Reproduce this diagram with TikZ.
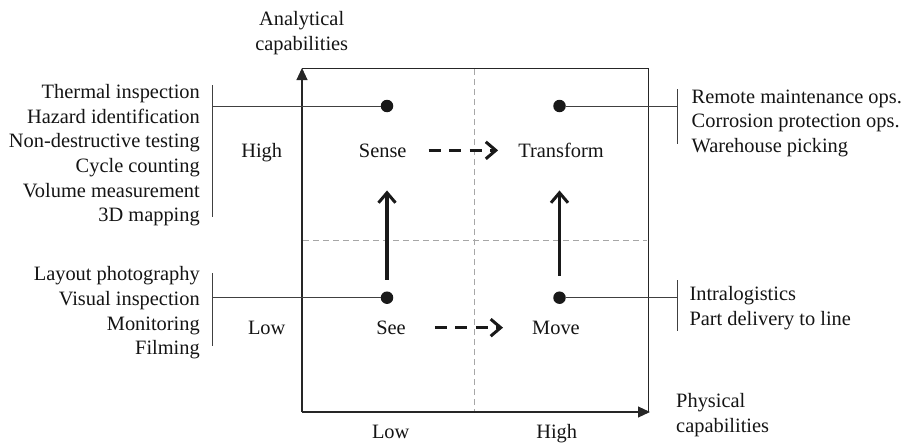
\documentclass[tikz,border=0pt]{standalone}
\usepackage{fontspec}
\setmainfont{Liberation Serif}
\usetikzlibrary{arrows.meta,calc}
\begin{document}
\begin{tikzpicture}[x=1pt,y=-1pt,
  every node/.style={font=\fontsize{20.4}{24.7}\selectfont, inner sep=0pt, text=black!92},
  axis/.style={line width=1.1pt, draw=black!85},
  frame/.style={line width=0.9pt, draw=black!85},
  midline/.style={line width=0.8pt, draw=black!35, dash pattern=on 6pt off 4pt},
  bracket/.style={line width=0.9pt, draw=black!75},
  dot/.style={circle, fill=black!90, minimum size=12.5pt},
  uparr/.style={line width=3.2pt, draw=black!90, -{Straight Barb[length=10pt,width=17pt,line width=3pt]}},
  dasharr/.style={uparr, dash pattern=on 12pt off 8.5pt},
  lbl/.style={align=right, anchor=north east},
  rbl/.style={align=left, anchor=north west},
  tip/.style={-{Triangle[length=12pt,width=11pt]}}]
\useasboundingbox (0,0) rectangle (910,444);
% frame and axes
\coordinate (O) at (302,412);
\coordinate (Ytop) at (302,68);
\coordinate (Xend) at (650,412);
\coordinate (TR) at (648,68);
\coordinate (BR) at (648,412);
\coordinate (vm1) at (474.3,69);
\coordinate (vm2) at (474.3,411);
\coordinate (hm1) at (303,240);
\coordinate (hm2) at (647,240);
\draw[midline] (vm1) -- (vm2);
\draw[midline] (hm1) -- (hm2);
\draw[frame] (Ytop) -- (TR) -- (BR);
\draw[axis,tip] (O) -- (Ytop);
\draw[axis,tip] (O) -- (Xend);
% axis labels
\node[align=center, anchor=north] (yl) at (301.7,11) {Analytical\\capabilities};
\node[align=left, anchor=north west] (xl) at (676,393) {Physical\\capabilities};
\node[anchor=base] (yhigh) at (261.7,157) {High};
\node[anchor=base] (ylow) at (266.7,334.3) {Low};
\node[anchor=base] (xlow) at (390.7,438.3) {Low};
\node[anchor=base] (xhigh) at (556.7,438.3) {High};
% quadrant labels
\node[anchor=base] (Sense) at (382.7,157) {Sense};
\node[anchor=base] (Transform) at (561,157) {Transform};
\node[anchor=base] (See) at (391,334.3) {See};
\node[anchor=base] (Move) at (556,334.3) {Move};
% dots
\node[dot] (dSense) at (387,106) {};
\node[dot] (dTransform) at (559.5,106) {};
\node[dot] (dSee) at (387,297.7) {};
\node[dot] (dMove) at (559.5,297.7) {};
% arrows
\draw[uparr, shorten <=11.5pt, shorten >=78pt] (dSee) -- (dSense);
\draw[uparr, shorten <=15.5pt, shorten >=78pt] (dMove) -- (dTransform);
\draw[dasharr] ([xshift=22pt]Sense.east) -- ([xshift=-20pt]Transform.west |- Sense.east);
\draw[dasharr] ([xshift=29pt]See.east) -- ([xshift=-29pt]Move.west |- See.east);
% example lists
\node[lbl] (lt) at (200,84) {Thermal inspection\\Hazard identification\\Non-destructive testing\\Cycle counting\\Volume measurement\\3D mapping};
\node[lbl] (lb) at (200,266.5) {Layout photography\\Visual inspection\\Monitoring\\Filming};
\node[rbl] (rt) at (691.5,89.5) {Remote maintenance ops.\\Corrosion protection ops.\\Warehouse picking};
\node[rbl] (rb) at (689.3,286.5) {Intralogistics\\Part delivery to line};
% brackets
\coordinate (blt1) at (212.3,85);
\coordinate (blt2) at (212.3,216.7);
\coordinate (bltm) at (212.3,106);
\coordinate (blb1) at (212.3,273.3);
\coordinate (blb2) at (212.3,346);
\coordinate (blbm) at (212.3,297.7);
\coordinate (brt1) at (677.3,89.3);
\coordinate (brt2) at (677.3,144);
\coordinate (brtm) at (677.3,106);
\coordinate (brb1) at (677.7,280);
\coordinate (brb2) at (677.7,331);
\coordinate (brbm) at (677.7,297.7);
\draw[bracket] (blt1) -- (blt2);
\draw[bracket] (bltm) -- (dSense);
\draw[bracket] (blb1) -- (blb2);
\draw[bracket] (blbm) -- (dSee);
\draw[bracket] (brt1) -- (brt2);
\draw[bracket] (brtm) -- (dTransform);
\draw[bracket] (brb1) -- (brb2);
\draw[bracket] (brbm) -- (dMove);
\end{tikzpicture}
\end{document}
